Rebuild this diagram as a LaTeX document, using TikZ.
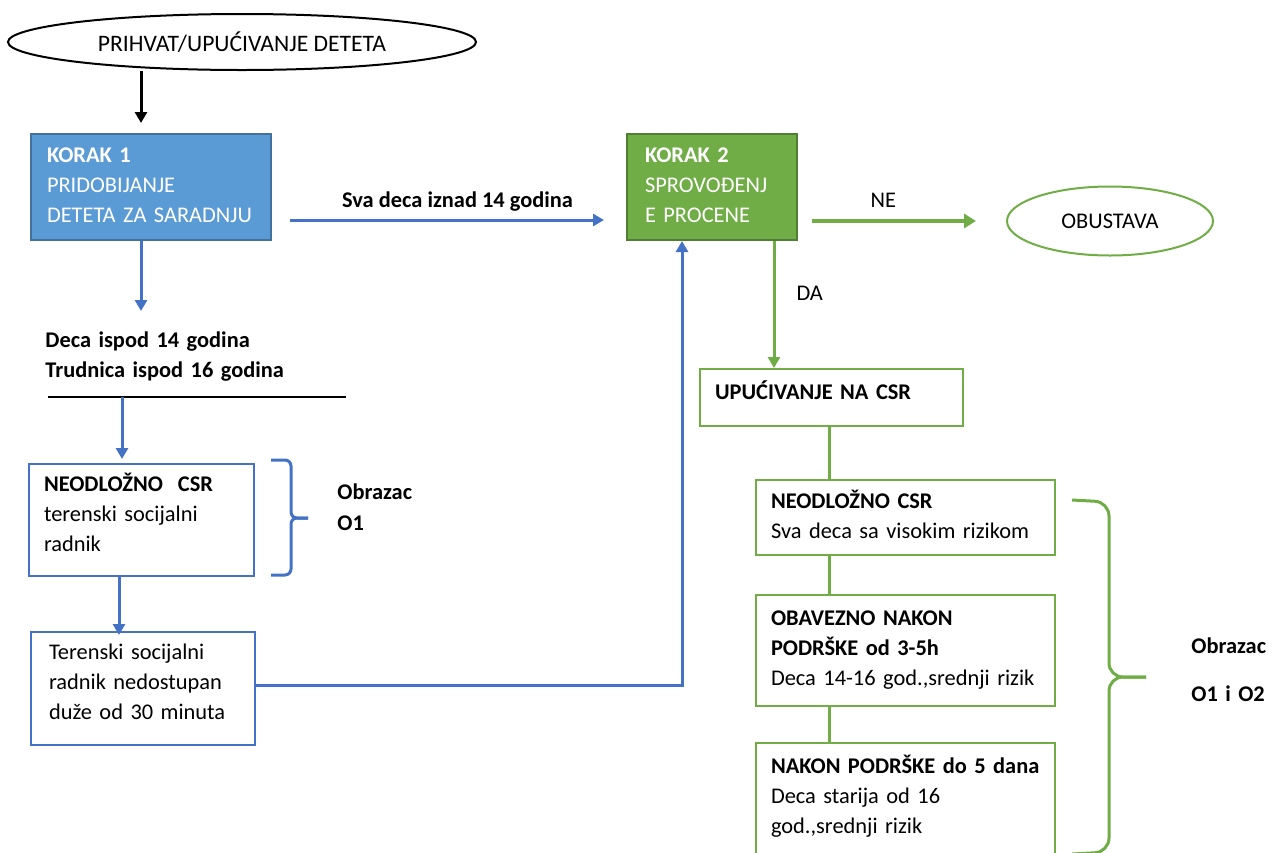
\documentclass[tikz,border=0pt]{standalone}
\usepackage{fontspec}
\setmainfont{Carlito}
\usepackage{tikz}
\usetikzlibrary{arrows.meta, shapes.geometric}

\definecolor{plava}{HTML}{4472C4}
\definecolor{plavapun}{HTML}{5B9BD5}
\definecolor{plavarub}{HTML}{41719C}
\definecolor{zelena}{HTML}{70AD47}
\definecolor{zelenarub}{HTML}{507E32}

\hyphenpenalty=10000
\exhyphenpenalty=10000

\begin{document}
\begin{tikzpicture}[x=0.5pt, y=-0.5pt,
    every node/.style={font=\fontsize{11.2}{15}\selectfont, inner sep=0pt},
    kutija/.style={draw, line width=1pt, anchor=north west, align=left, inner xsep=7.5pt, inner ysep=0pt},
    korak/.style={kutija, text=white, inner xsep=9pt},
    natpis/.style={align=left, anchor=base west},
    oznaka/.style={text=black},
    strelica/.style={line width=1.5pt, -{Triangle[width=6pt, length=5.5pt]}},
    veza/.style={line width=1.5pt}]
        \useasboundingbox (0,0) rectangle (1278,852);

        % pomocne tacke
        \coordinate (p1) at (141,0);
        \coordinate (p2) at (141,311);
        \coordinate (p3) at (122,397);
        \coordinate (p4) at (119,0);
        \coordinate (p5) at (682,0);
        \coordinate (p6) at (774,0);
        \coordinate (p7) at (829,0);
        \coordinate (red1) at (0,220);
        \coordinate (red2) at (0,685);
        \coordinate (lin1) at (48,397);
        \coordinate (lin2) at (346,397);

        \node [ellipse, draw, line width=1pt, minimum width=234pt, minimum height=28pt, font=\fontsize{11.8}{15}\selectfont] (prihvat) at (242,42) {PRIHVAT/UPUĆIVANJE DETETA};
        \node [korak, fill=plavapun, draw=plavarub, inner xsep=8pt, text width=104pt, text height=14pt, text depth=39pt] (korak1) at (30,133) {\textbf{KORAK 1}\\PRIDOBIJANJE\\DETETA ZA SARADNJU};
        \node [korak, fill=zelena, draw=zelenarub, text width=67pt, text height=14pt, text depth=39pt] (korak2) at (626,133) {\textbf{KORAK 2}\\SPROVOĐENJ\\E PROCENE};
        \node [ellipse, draw=zelena, line width=1pt, minimum width=103pt, minimum height=34.5pt] (obustava) at (1110,221) {OBUSTAVA};

        \node [natpis, text width=150pt] (deca) at (45,347) {\bfseries Deca ispod 14 godina\\Trudnica ispod 16 godina};
        \node [kutija, draw=plava, text width=97.5pt, text height=13.5pt, text depth=42.5pt] (neodlozno) at (28,463) {\textbf{NEODLOŽNO~~CSR}\\terenski socijalni\\radnik};
        \node [kutija, draw=plava, inner xsep=9pt, text width=94pt, text height=13.5pt, text depth=43pt] (teren) at (30,631) {Terenski socijalni\\radnik nedostupan\\duže od 30 minuta};
        \node [natpis, text width=50pt] (obrazac1) at (337,499) {\bfseries Obrazac\\[0.5pt]O1};

        \node [kutija, draw=zelena, text width=116.5pt, text height=15pt, text depth=13.5pt] (upucivanje) at (699,368) {\textbf{UPUĆIVANJE NA CSR}};
        \node [kutija, draw=zelena, text width=134.5pt, text height=14pt, text depth=23.5pt] (hitno) at (755,479) {\textbf{NEODLOŽNO CSR}\\Sva deca sa visokim rizikom};
        \node [kutija, draw=zelena, text width=134.5pt, text height=15pt, text depth=40.5pt] (obavezno) at (755,594) {\textbf{OBAVEZNO NAKON}\\\textbf{PODRŠKE od 3-5h}\\Deca 14-16 god.,srednji rizik};
        \node [kutija, draw=zelena, text width=134.5pt, text height=15pt, text depth=42pt] (nakon) at (755,742) {\textbf{NAKON PODRŠKE do 5 dana}\\Deca starija od 16\\god.,srednji rizik};
        \node [natpis, text width=50pt] (obrazac2) at (1191,653) {\bfseries Obrazac\\[9pt]O1 i O2};

        \draw [strelica, shorten >=5pt]  (prihvat.south -| p1) -- (korak1.north -| p1);
        \draw [strelica, plava, shorten <=9pt, shorten >=11pt]  (korak1.east |- red1) -- (korak2.west |- red1)
              node [oznaka, pos=0.524, anchor=base, yshift=6.5pt] {\bfseries Sva deca iznad 14 godina};
        \draw [strelica, zelena, line width=2pt, -{Triangle[width=7pt, length=6pt]}, shorten <=7pt, shorten >=15pt]  (korak2.east |- obustava.west) -- (obustava.west)
              node [oznaka, pos=0.41, anchor=base, yshift=7pt] {NE};
        \draw [strelica, zelena]  (korak2.south -| p6) -- (upucivanje.north -| p6)
              node [oznaka, pos=0.47, anchor=base west, xshift=10.5pt] {DA};

        \draw [strelica, plava]  (korak1.south -| p1) -- (p2);
        \draw [line width=1pt]  (lin1) -- (lin2);
        \draw [strelica, plava, shorten >=2pt]  (p3) -- (p3 |- neodlozno.north);
        \draw [strelica, plava, shorten >=-2pt]  (neodlozno.south -| p4) -- (teren.north -| p4);
        \draw [strelica, plava]  (teren.east |- red2) -| (korak2.south -| p5);

        \draw [veza, zelena]  (upucivanje.south -| p7) -- (hitno.north -| p7);
        \draw [veza, zelena]  (hitno.south -| p7) -- (obavezno.north -| p7);
        \draw [veza, zelena]  (obavezno.south -| p7) -- (nakon.north -| p7);

        % zagrade
        \draw [veza, plava, rounded corners=3pt]  (271,460) -- (291,460) -- (291,518) -- (308,518);
        \draw [veza, plava, rounded corners=3pt]  (308,518) -- (291,518) -- (291,575) -- (271,575);
        \draw [veza, zelena, rounded corners=7pt]  (1072,500) -- (1109,502) -- (1109,677) -- (1146,677);
        \draw [veza, zelena, rounded corners=7pt]  (1146,677) -- (1109,677) -- (1109,852) -- (1072,854);
      \end{tikzpicture}
\end{document}
